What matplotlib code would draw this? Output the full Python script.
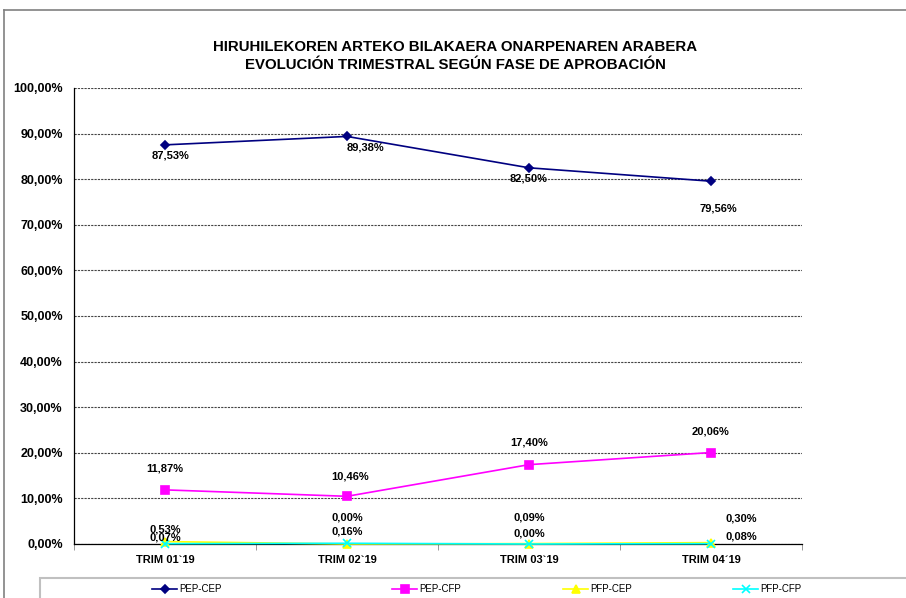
import numpy as np
import matplotlib
matplotlib.use('Agg')
from matplotlib import pyplot as plt
from matplotlib.lines import Line2D
from matplotlib.patches import Rectangle
from matplotlib.ticker import FuncFormatter, FixedLocator

plt.rcParams['font.family'] = ['Liberation Sans', 'DejaVu Sans']

# data
trimestres = ['TRIM 01`19', 'TRIM 02`19', 'TRIM 03`19', 'TRIM 04´19']
series_names = ['PEP-CEP', 'PEP-CFP', 'PFP-CEP', 'PFP-CFP']
pep_cep = [87.53, 89.38, 82.50, 79.56]
pep_cfp = [11.87, 10.46, 17.40, 20.06]
pfp_cep = [0.53, 0.00, 0.09, 0.30]
pfp_cfp = [0.07, 0.16, 0.00, 0.08]

colors = ['#000080', '#FF00FF', '#FFFF00', '#00FFFF']
markers = ['D', 's', '^', 'x']
msizes = [4, 6, 6, 6]
# label offsets in pixels (dx, dy) per point
offsets = [
    [(5, -11), (18, -11), (0, -11), (7, -27)],
    [(0, 21), (3, 20), (0, 22), (0, 21)],
    [(0, 12), (0, 26), (0, 26), (30, 24)],
    [(0, 6), (0, 12), (0, 10), (30, 7)],
]

fig = plt.figure(figsize=(9.06, 5.98), dpi=100)
ax = fig.add_axes([74 / 906, 1 - 544 / 598, 728 / 906, 456 / 598])

x = np.arange(len(trimestres))
all_series = [pep_cep, pep_cfp, pfp_cep, pfp_cfp]
handles = []
for i, vals in enumerate(all_series):
    y = np.array(vals) / 100.0
    ln, = ax.plot(x, y, color=colors[i], marker=markers[i], markersize=msizes[i],
                  linewidth=1.2, markeredgewidth=1.2, zorder=3 + i, clip_on=False)
    handles.append(ln)
    for j, v in enumerate(vals):
        lbl = ('%.2f' % v).replace('.', ',') + '%'
        ax.annotate(lbl, (x[j], y[j]), xytext=offsets[i][j], textcoords='offset pixels',
                    ha='center', va='center', fontsize=8, fontweight='bold',
                    color='#000000', zorder=10)

ax.set_xlim(-0.5, 3.5)
ax.set_ylim(0, 1.0)
ax.yaxis.set_major_locator(FixedLocator(np.arange(0, 1.01, 0.1)))
ax.yaxis.set_major_formatter(FuncFormatter(lambda v, p: ('%.2f' % (v * 100)).replace('.', ',') + '%'))
ax.set_xticks(x)
ax.set_xticklabels(trimestres, fontsize=8, fontweight='bold')
ax.set_xticks([-0.5, 0.5, 1.5, 2.5, 3.5], minor=True)
ax.tick_params(axis='x', which='major', length=0, pad=8)
ax.tick_params(axis='x', which='minor', length=4, direction='out', width=0.6, color='#888888')
ax.tick_params(axis='y', length=0, pad=8)
for t in ax.get_yticklabels():
    t.set_fontweight('bold')
    t.set_fontsize(9)

ax.grid(axis='y', color='#444444', linestyle=(0, (2, 1)), linewidth=0.8)
ax.set_axisbelow(True)
ax.spines['top'].set_visible(False)
ax.spines['right'].set_visible(False)
ax.spines['left'].set_linewidth(0.9)
ax.spines['bottom'].set_linewidth(0.9)

fig.text(455 / 906, 1 - 47 / 598, 'HIRUHILEKOREN ARTEKO BILAKAERA ONARPENAREN ARABERA',
         ha='center', va='center', fontsize=10.8, fontweight='bold')
fig.text(455 / 906, 1 - 65 / 598, 'EVOLUCIÓN TRIMESTRAL SEGÚN FASE DE APROBACIÓN',
         ha='center', va='center', fontsize=10.8, fontweight='bold')

# outer frame of the chart (left and top edges visible)
fig.add_artist(Line2D([4 / 906, 4 / 906], [0, 1 - 10 / 598], color='#808080', linewidth=1.2))
fig.add_artist(Line2D([4 / 906, 1], [1 - 10 / 598, 1 - 10 / 598], color='#808080', linewidth=1.2))

# legend box
fig.add_artist(Rectangle((40 / 906, -0.01), 1, (598 - 578) / 598 + 0.01, transform=fig.transFigure,
                         facecolor='white', edgecolor='#c0c0c0', linewidth=1.5))
leg_x = [152, 392, 563, 733]
for i, h in enumerate(handles):
    fig.legend([h], [series_names[i]], loc='center left',
               bbox_to_anchor=(leg_x[i] / 906, 1 - 589 / 598), frameon=False,
               fontsize=7, handlelength=2.6, handletextpad=0.2, borderpad=0, borderaxespad=0)

fig.savefig('out.png', dpi=100)
